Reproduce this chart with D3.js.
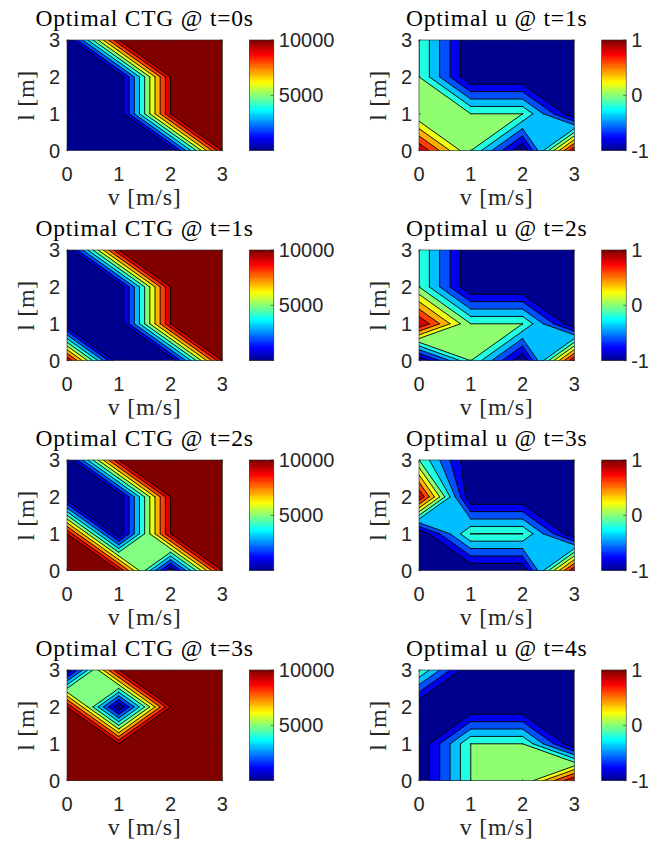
<!DOCTYPE html>
<meta charset="utf-8">
<style>
body { margin: 0; background: #fff; }
svg { display: block; }
.num { font-family: "Liberation Sans", Arial, sans-serif; font-size: 20px; fill: #262626; }
.ttl { font-family: "Liberation Serif", serif; font-size: 23.5px; fill: #000; letter-spacing: 0.8px; }
.lab { font-family: "Liberation Serif", serif; font-size: 24px; fill: #262626; letter-spacing: 0.7px; }
</style>
<svg width="649" height="843"></svg>
<script src="https://d3js.org/d3.v7.min.js"></script>
<script>

var vVals = [0, 1, 2, 3],
    lVals = [0, 1, 2, 3];

// grids: rows are l = 0,1,2,3 ; columns are v = 0,1,2,3
var ctgT0 = [
  [3, 2, 1, 10000],
  [2, 2, 10000, 10000],
  [1, 1, 10000, 10000],
  [1, 10000, 10000, 10000]
];
var ctgT1 = [
  [10000, 3, 2, 10000],
  [2, 2, 10000, 10000],
  [1, 1, 10000, 10000],
  [1, 10000, 10000, 10000]
];
var ctgT2 = [
  [10000, 10000, 2, 10000],
  [10000, 2, 10000, 10000],
  [1, 1, 10000, 10000],
  [1, 10000, 10000, 10000]
];
var ctgT3 = [
  [10000, 10000, 10000, 10000],
  [10000, 10000, 10000, 10000],
  [10000, 1, 10000, 10000],
  [1, 10000, 10000, 10000]
];
var uT1 = [
  [1, 0, -1, 1],
  [0, 0, 0, -1],
  [0, -1, -1, -1],
  [0, -1, -1, -1]
];
var uT2 = [
  [-1, 0, -1, 1],
  [1, 0, 0, -1],
  [0, -1, -1, -1],
  [0, -1, -1, -1]
];
var uT3 = [
  [-1, -1, -1, 1],
  [-1, 0, 0, -1],
  [1, -1, -1, -1],
  [0, -1, -1, -1]
];
var uT4 = [
  [-1, 0, 0, 1],
  [-1, 0, 0, -1],
  [-1, -1, -1, -1],
  [0, -1, -1, -1]
];

var ctgLevels = [0, 1000, 2000, 3000, 4000, 5000, 6000, 7000, 8000, 9000, 10000],
    uLevels = [-1, -0.8, -0.6, -0.4, -0.2, 0, 0.2, 0.4, 0.6, 0.8, 1];
var axisTicks = [0, 1, 2, 3],
    ctgBarTicks = [5000, 10000],
    uBarTicks = [-1, 0, 1];

var panels = [
  {z: ctgT0, title: "Optimal CTG @ t=0s", levels: ctgLevels, bar: ctgBarTicks, col: 0, row: 0},
  {z: uT1,   title: "Optimal u @ t=1s",   levels: uLevels,   bar: uBarTicks,   col: 1, row: 0},
  {z: ctgT1, title: "Optimal CTG @ t=1s", levels: ctgLevels, bar: ctgBarTicks, col: 0, row: 1},
  {z: uT2,   title: "Optimal u @ t=2s",   levels: uLevels,   bar: uBarTicks,   col: 1, row: 1},
  {z: ctgT2, title: "Optimal CTG @ t=2s", levels: ctgLevels, bar: ctgBarTicks, col: 0, row: 2},
  {z: uT3,   title: "Optimal u @ t=3s",   levels: uLevels,   bar: uBarTicks,   col: 1, row: 2},
  {z: ctgT3, title: "Optimal CTG @ t=3s", levels: ctgLevels, bar: ctgBarTicks, col: 0, row: 3},
  {z: uT4,   title: "Optimal u @ t=4s",   levels: uLevels,   bar: uBarTicks,   col: 1, row: 3}
];

var svg = d3.select("svg");
var colX = [67, 419], rowY = [40, 250, 460, 670],
    plotW = 155.3, plotH = 110.7,
    barX = [249.3, 601.7], barW = 24.5,
    axisColor = "#262626";

// MATLAB jet(m)
function jetMap(m) {
  var n = Math.ceil(m / 4), u = [], i;
  for (i = 1; i <= n; i++) u.push(i / n);
  for (i = 1; i < n; i++) u.push(1);
  for (i = n; i >= 1; i--) u.push(i / n);
  var g0 = Math.ceil(n / 2) - (m % 4 === 1 ? 1 : 0);
  var J = d3.range(m).map(function() { return [0, 0, 0]; });
  u.forEach(function(val, k) {
    var g = g0 + k + 1, r = g + n, b = g - n;
    if (g >= 1 && g <= m) J[g - 1][1] = val;
    if (r >= 1 && r <= m) J[r - 1][0] = val;
    if (b >= 1 && b <= m) J[b - 1][2] = val;
  });
  return J.map(function(c) { return d3.rgb(c[0] * 255, c[1] * 255, c[2] * 255).formatHex(); });
}
var jet = jetMap(64);
function colorOf(val, cmin, cmax) {
  var idx = Math.floor((val - cmin) / (cmax - cmin) * jet.length);
  return jet[Math.max(0, Math.min(jet.length - 1, idx))];
}

// marching squares on the grid, saddles decided by the cell mean (like contourc)
function levelGeometry(z, L) {
  var polys = [], segs = [];
  for (var j = 0; j < lVals.length - 1; j++) {
    for (var i = 0; i < vVals.length - 1; i++) {
      var c = [[vVals[i], lVals[j]], [vVals[i + 1], lVals[j]], [vVals[i + 1], lVals[j + 1]], [vVals[i], lVals[j + 1]]];
      var f = [z[j][i], z[j][i + 1], z[j + 1][i + 1], z[j + 1][i]];
      var hi = f.map(function(d) { return d >= L; });
      var n = hi.filter(Boolean).length;
      if (n === 0) continue;
      if (n === 4) { polys.push(c); continue; }
      var cross = function(a) {
        var b = (a + 1) % 4, t = (L - f[a]) / (f[b] - f[a]);
        return [c[a][0] + t * (c[b][0] - c[a][0]), c[a][1] + t * (c[b][1] - c[a][1])];
      };
      var saddle = n === 2 && hi[0] === hi[2];
      if (saddle && d3.mean(f) < L) {
        [0, 1, 2, 3].filter(function(k) { return hi[k]; }).forEach(function(k) {
          var p = cross((k + 3) % 4), q = cross(k);
          polys.push([p, c[k], q]);
          segs.push([p, q]);
        });
      } else {
        var ring = [], pts = [];
        for (var k = 0; k < 4; k++) {
          if (hi[k]) ring.push(c[k]);
          if (hi[k] !== hi[(k + 1) % 4]) { var p = cross(k); ring.push(p); pts.push(p); }
        }
        polys.push(ring);
        if (saddle) {
          [0, 1, 2, 3].filter(function(k) { return !hi[k]; }).forEach(function(k) {
            segs.push([cross((k + 3) % 4), cross(k)]);
          });
        } else segs.push(pts);
      }
    }
  }
  return {polys: polys, segs: segs};
}

var defs = svg.append("defs");

panels.forEach(function(p, pi) {
  var x0 = colX[p.col], y0 = rowY[p.row];
  var x = d3.scaleLinear().domain([0, 3]).range([x0, x0 + plotW]);
  var y = d3.scaleLinear().domain([0, 3]).range([y0 + plotH, y0]);
  var all = d3.merge(p.z), cmin = d3.min(all), cmax = d3.max(all);

  defs.append("clipPath").attr("id", "clip" + pi)
    .append("rect").attr("x", x0).attr("y", y0).attr("width", plotW).attr("height", plotH);

  var g = svg.append("g").attr("clip-path", "url(#clip" + pi + ")");
  var lines = "";
  p.levels.forEach(function(L) {
    var geo = levelGeometry(p.z, L);
    var d = geo.polys.map(function(r) {
      return "M" + r.map(function(q) { return x(q[0]) + "," + y(q[1]); }).join("L") + "Z";
    }).join("");
    if (d) g.append("path").attr("d", d).attr("fill", colorOf(L, cmin, cmax));
    geo.segs.forEach(function(s) {
      lines += "M" + x(s[0][0]) + "," + y(s[0][1]) + "L" + x(s[1][0]) + "," + y(s[1][1]);
    });
  });
  g.append("path").attr("d", lines).attr("fill", "none")
    .attr("stroke", "#000").attr("stroke-width", 0.9).attr("stroke-linecap", "round");

  // axes box + ticks
  svg.append("rect").attr("x", x0).attr("y", y0).attr("width", plotW).attr("height", plotH)
    .attr("fill", "none").attr("stroke", axisColor).attr("stroke-width", 0.6);
  var tk = svg.append("g").attr("stroke", axisColor).attr("stroke-width", 0.6);
  axisTicks.forEach(function(t) {
    tk.append("line").attr("x1", x(t)).attr("x2", x(t)).attr("y1", y0 + plotH).attr("y2", y0 + plotH - 2);
    tk.append("line").attr("x1", x(t)).attr("x2", x(t)).attr("y1", y0).attr("y2", y0 + 2);
    tk.append("line").attr("y1", y(t)).attr("y2", y(t)).attr("x1", x0).attr("x2", x0 + 2);
    tk.append("line").attr("y1", y(t)).attr("y2", y(t)).attr("x1", x0 + plotW).attr("x2", x0 + plotW - 2);
  });
  svg.append("g").selectAll("text").data(axisTicks).enter().append("text")
    .attr("class", "num").attr("x", function(t) { return x(t); }).attr("y", y0 + plotH + 30)
    .attr("text-anchor", "middle").text(function(t) { return t; });
  svg.append("g").selectAll("text").data(axisTicks).enter().append("text")
    .attr("class", "num").attr("x", x0 - 7).attr("y", function(t) { return y(t) + 7; })
    .attr("text-anchor", "end").text(function(t) { return t; });

  svg.append("text").attr("class", "ttl").attr("x", x0 + plotW / 2).attr("y", y0 - 14)
    .attr("text-anchor", "middle").text(p.title);
  svg.append("text").attr("class", "lab").attr("x", x0 + plotW / 2).attr("y", y0 + plotH + 54)
    .attr("text-anchor", "middle").text("v [m/s]");
  svg.append("text").attr("class", "lab")
    .attr("transform", "translate(" + (x0 - 33) + "," + (y0 + plotH / 2) + ") rotate(-90)")
    .attr("text-anchor", "middle").text("l [m]");

  // colorbar
  var grad = defs.append("linearGradient").attr("id", "grad" + pi)
    .attr("x1", 0).attr("y1", 1).attr("x2", 0).attr("y2", 0);
  jet.forEach(function(col, k) {
    grad.append("stop").attr("offset", k / jet.length).attr("stop-color", col);
    grad.append("stop").attr("offset", (k + 1) / jet.length).attr("stop-color", col);
  });
  var bx = barX[p.col];
  var cy = d3.scaleLinear().domain([cmin, cmax]).range([y0 + plotH, y0]);
  svg.append("rect").attr("x", bx).attr("y", y0).attr("width", barW).attr("height", plotH)
    .attr("fill", "url(#grad" + pi + ")").attr("stroke", axisColor).attr("stroke-width", 0.6);
  var bt = svg.append("g").attr("stroke", axisColor).attr("stroke-width", 0.6);
  p.bar.forEach(function(t) {
    bt.append("line").attr("x1", bx + barW).attr("x2", bx + barW - 3).attr("y1", cy(t)).attr("y2", cy(t));
  });
  svg.append("g").selectAll("text").data(p.bar).enter().append("text")
    .attr("class", "num").attr("x", bx + barW + 5).attr("y", function(t) { return cy(t) + 7; })
    .text(function(t) { return String(t); });
});

</script>
